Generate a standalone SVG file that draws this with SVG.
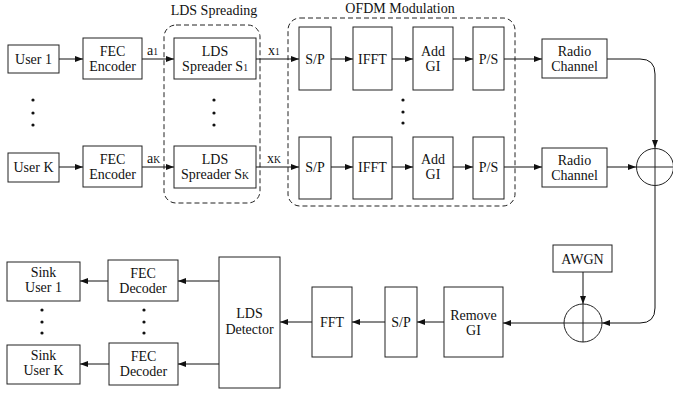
<svg xmlns="http://www.w3.org/2000/svg" width="673" height="394" viewBox="0 0 673 394">
<defs>
<marker id="arr" markerUnits="userSpaceOnUse" markerWidth="9" markerHeight="7" refX="8" refY="3" orient="auto">
<path d="M0,0 L8,3 L0,6 z" fill="#111"/>
</marker>
<style>
rect.b{fill:#fff;stroke:#222;stroke-width:1}
text{font-family:"Liberation Serif","DejaVu Serif",serif;font-size:14px;fill:#111;text-anchor:middle}
text.l{text-anchor:start}
tspan.s{font-size:9.5px}
.c path,.c line{fill:none;stroke:#111;stroke-width:1}
.c path.a,.c line.a{marker-end:url(#arr)}
.d{fill:none;stroke:#222;stroke-width:1;stroke-dasharray:5,3}
circle.dot{fill:#111}
circle.sum{fill:none;stroke:#222;stroke-width:1}
</style>
</defs>
<rect width="673" height="394" fill="#fff"/>

<g id="group-lds">
<rect class="d" x="164" y="25" width="96" height="178" rx="12"/>
<text x="214" y="15">LDS Spreading</text>
</g>
<g id="group-ofdm">
<rect class="d" x="288" y="18" width="227" height="188" rx="12"/>
<text x="400" y="13">OFDM Modulation</text>
</g>

<g class="c" id="connectors">
<line class="a" x1="59" y1="59" x2="83" y2="59"/>
<line class="a" x1="142" y1="59" x2="174" y2="59"/>
<line class="a" x1="256" y1="59" x2="299" y2="59"/>
<line class="a" x1="331" y1="59" x2="353" y2="59"/>
<line class="a" x1="392" y1="59" x2="413" y2="59"/>
<line class="a" x1="453" y1="59" x2="473" y2="59"/>
<line class="a" x1="504" y1="59" x2="542" y2="59"/>
<path class="a" d="M607,59 H640 Q655,59 655,74 V148"/>
<line class="a" x1="59" y1="167" x2="83" y2="167"/>
<line class="a" x1="142" y1="167" x2="174" y2="167"/>
<line class="a" x1="256" y1="167" x2="299" y2="167"/>
<line class="a" x1="331" y1="167" x2="353" y2="167"/>
<line class="a" x1="392" y1="167" x2="413" y2="167"/>
<line class="a" x1="453" y1="167" x2="473" y2="167"/>
<line class="a" x1="504" y1="167" x2="542" y2="167"/>
<line class="a" x1="607" y1="167" x2="636" y2="167"/>
<path class="a" d="M655,186 V308 Q655,323 640,323 H602"/>
<line class="a" x1="583" y1="272" x2="583" y2="304"/>
<line class="a" x1="564" y1="323" x2="503" y2="323"/>
<line class="a" x1="444" y1="322" x2="417" y2="322"/>
<line class="a" x1="385" y1="322" x2="352" y2="322"/>
<line class="a" x1="312" y1="322" x2="280" y2="322"/>
<line class="a" x1="219" y1="281" x2="178" y2="281"/>
<line class="a" x1="108" y1="281" x2="80" y2="281"/>
<line class="a" x1="219" y1="364" x2="178" y2="364"/>
<line class="a" x1="109" y1="364" x2="80" y2="364"/>
<text class="l" x="147" y="55">a<tspan class="s">1</tspan></text>
<text class="l" x="147" y="163">a<tspan class="s">K</tspan></text>
<text class="l" x="268" y="55">x<tspan class="s">1</tspan></text>
<text class="l" x="267" y="163">x<tspan class="s">K</tspan></text>
</g>

<g id="user1"><rect class="b" x="8" y="45" width="51" height="28"/><text x="33.5" y="64">User 1</text></g>
<g id="userK"><rect class="b" x="8" y="153" width="51" height="29"/><text x="33.5" y="172">User K</text></g>
<g id="fecEnc1"><rect class="b" x="83" y="38" width="59" height="41"/><text x="112.5" y="56">FEC</text><text x="112.5" y="71">Encoder</text></g>
<g id="fecEncK"><rect class="b" x="83" y="146" width="59" height="41"/><text x="112.5" y="164">FEC</text><text x="112.5" y="179">Encoder</text></g>
<g id="spreader1"><rect class="b" x="174" y="38" width="82" height="41"/><text x="215" y="56">LDS</text><text x="215" y="71">Spreader S<tspan class="s">1</tspan></text></g>
<g id="spreaderK"><rect class="b" x="174" y="146" width="82" height="42"/><text x="215" y="164">LDS</text><text x="215" y="179">Spreader S<tspan class="s">K</tspan></text></g>

<g id="sp1"><rect class="b" x="299" y="27" width="32" height="63"/><text x="315" y="64">S/P</text></g>
<g id="ifft1"><rect class="b" x="353" y="27" width="39" height="63"/><text x="372.5" y="64">IFFT</text></g>
<g id="addgi1"><rect class="b" x="413" y="27" width="40" height="63"/><text x="433" y="56">Add</text><text x="433" y="71">GI</text></g>
<g id="ps1"><rect class="b" x="473" y="27" width="31" height="63"/><text x="488.5" y="64">P/S</text></g>
<g id="spK"><rect class="b" x="299" y="137" width="32" height="62"/><text x="315" y="172">S/P</text></g>
<g id="ifftK"><rect class="b" x="353" y="137" width="39" height="62"/><text x="372.5" y="172">IFFT</text></g>
<g id="addgiK"><rect class="b" x="413" y="137" width="40" height="62"/><text x="433" y="164">Add</text><text x="433" y="179">GI</text></g>
<g id="psK"><rect class="b" x="473" y="137" width="31" height="62"/><text x="488.5" y="172">P/S</text></g>

<g id="radio1"><rect class="b" x="542" y="39" width="65" height="39"/><text x="574.5" y="56">Radio</text><text x="574.5" y="71">Channel</text></g>
<g id="radioK"><rect class="b" x="542" y="148" width="65" height="39"/><text x="574.5" y="165">Radio</text><text x="574.5" y="180">Channel</text></g>
<g id="sum1"><circle class="sum" cx="655" cy="167" r="18.5"/><line x1="655" y1="148.5" x2="655" y2="185.5" stroke="#222"/><line x1="636.5" y1="167" x2="673.5" y2="167" stroke="#222"/></g>
<g id="awgn"><rect class="b" x="553" y="245" width="59" height="27"/><text x="582.5" y="264">AWGN</text></g>
<g id="sum2"><circle class="sum" cx="583" cy="323" r="19"/><line x1="583" y1="304" x2="583" y2="342" stroke="#222"/><line x1="564" y1="323" x2="602" y2="323" stroke="#222"/></g>

<g id="removeGI"><rect class="b" x="444" y="287" width="59" height="70"/><text x="473.5" y="320">Remove</text><text x="473.5" y="335">GI</text></g>
<g id="sp2"><rect class="b" x="385" y="287" width="32" height="70"/><text x="401" y="327">S/P</text></g>
<g id="fft"><rect class="b" x="312" y="287" width="40" height="70"/><text x="332" y="327">FFT</text></g>
<g id="detector"><rect class="b" x="219" y="257" width="61" height="131"/><text x="249.5" y="318">LDS</text><text x="249.5" y="334">Detector</text></g>
<g id="fecDec1"><rect class="b" x="108" y="260" width="70" height="41"/><text x="143" y="278">FEC</text><text x="143" y="293">Decoder</text></g>
<g id="fecDecK"><rect class="b" x="109" y="343" width="69" height="42"/><text x="143.5" y="361">FEC</text><text x="143.5" y="376">Decoder</text></g>
<g id="sink1"><rect class="b" x="7" y="262" width="73" height="39"/><text x="43.5" y="277">Sink</text><text x="43.5" y="292">User 1</text></g>
<g id="sinkK"><rect class="b" x="7" y="345" width="73" height="39"/><text x="43.5" y="360">Sink</text><text x="43.5" y="375">User K</text></g>

<g id="ellipses">
<circle class="dot" cx="33" cy="100" r="1.6"/><circle class="dot" cx="33" cy="113" r="1.6"/><circle class="dot" cx="33" cy="125" r="1.6"/>
<circle class="dot" cx="214" cy="100" r="1.6"/><circle class="dot" cx="214" cy="113" r="1.6"/><circle class="dot" cx="214" cy="125" r="1.6"/>
<circle class="dot" cx="403" cy="100" r="1.6"/><circle class="dot" cx="403" cy="112" r="1.6"/><circle class="dot" cx="403" cy="123" r="1.6"/>
<circle class="dot" cx="42" cy="310" r="1.6"/><circle class="dot" cx="42" cy="322" r="1.6"/><circle class="dot" cx="42" cy="333" r="1.6"/>
<circle class="dot" cx="144" cy="310" r="1.6"/><circle class="dot" cx="144" cy="322" r="1.6"/><circle class="dot" cx="144" cy="333" r="1.6"/>
</g>
</svg>
